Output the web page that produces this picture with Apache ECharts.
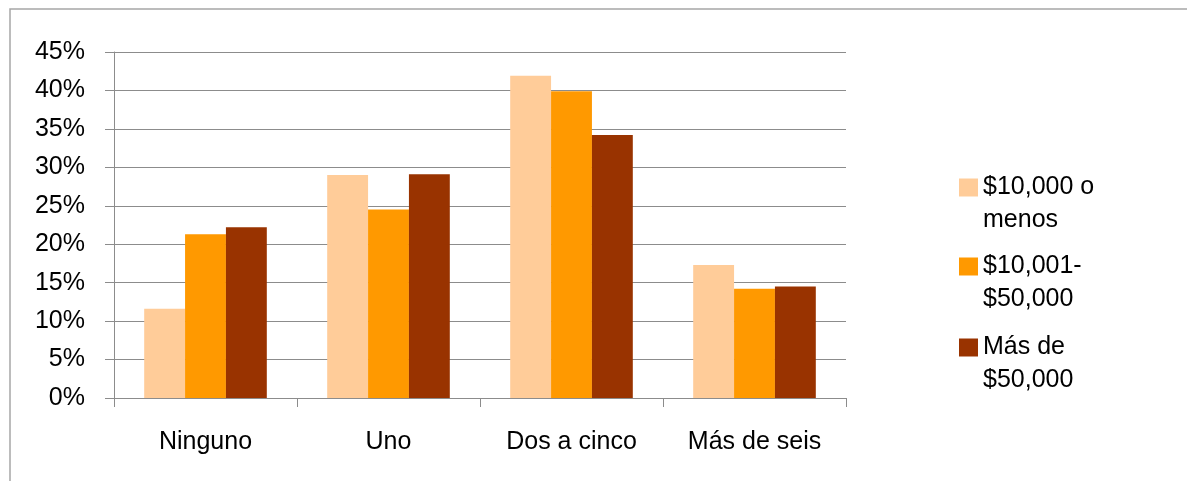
<!DOCTYPE html>
<html>
<head>
<meta charset="utf-8">
<script src="https://cdn.jsdelivr.net/npm/echarts@6/dist/echarts.min.js"></script>
<style>
html,body{margin:0;padding:0;background:#fff;}
#chart{width:1187px;height:481px;}
</style>
</head>
<body>
<div id="chart"></div>
<script>
const categories = ['Ninguno', 'Uno', 'Dos a cinco', 'Más de seis'];
const seriesNames = ['$10,000 o menos', '$10,001-$50,000', 'Más de $50,000'];
const legendLabels = ['$10,000 o\nmenos', '$10,001-\n$50,000', 'Más de\n$50,000'];
const lowIncome = [11.6, 29.0, 41.9, 17.3];
const midIncome = [21.3, 24.5, 39.9, 14.2];
const highIncome = [22.2, 29.1, 34.2, 14.5];
const yTicks = [0, 5, 10, 15, 20, 25, 30, 35, 40, 45];

const colors = ['#FFCC99', '#FF9900', '#993300'];
const values = [lowIncome, midIncome, highIncome];
const FONT = '"Liberation Sans", Arial, sans-serif';
const legendTops = [138, 217, 298];

const chart = echarts.init(document.getElementById('chart'), null, {renderer: 'canvas'});
chart.setOption({
  animation: false,
  backgroundColor: '#ffffff',
  textStyle: {fontFamily: FONT},
  graphic: [{
    type: 'rect',
    shape: {x: 10, y: 9, width: 1200, height: 500},
    style: {fill: 'none', stroke: '#A6A6A6', lineWidth: 1.5},
    silent: true
  }],
  grid: {left: 114, top: 52, width: 732, height: 346},
  xAxis: {
    type: 'category',
    data: categories,
    axisLine: {show: true, lineStyle: {color: '#8C8C8C', width: 1}},
    axisTick: {show: true, length: 9, lineStyle: {color: '#8C8C8C'}},
    axisLabel: {color: '#000', fontSize: 25, fontFamily: FONT, margin: 32}
  },
  yAxis: {
    type: 'value',
    min: yTicks[0],
    max: yTicks[yTicks.length - 1],
    interval: yTicks[1] - yTicks[0],
    axisLine: {show: true, lineStyle: {color: '#8C8C8C', width: 1}},
    axisTick: {show: true, length: 9, lineStyle: {color: '#8C8C8C'}},
    splitLine: {show: true, lineStyle: {color: '#8C8C8C', width: 1}},
    axisLabel: {color: '#000', fontSize: 25, fontFamily: FONT, margin: 29, formatter: '{value}%'}
  },
  legend: seriesNames.map((name, i) => ({
    data: [name],
    orient: 'vertical',
    left: 959,
    top: legendTops[i],
    padding: 0,
    itemWidth: 19,
    itemHeight: 18,
    itemGap: 0,
    icon: 'rect',
    selectedMode: false,
    formatter: () => ' \n' + legendLabels[i],
    textStyle: {color: '#000', fontSize: 25, fontFamily: FONT, lineHeight: 33}
  })),
  series: seriesNames.map((name, i) => ({
    name: name,
    type: 'bar',
    data: values[i],
    itemStyle: {color: colors[i]},
    barGap: '0%',
    barCategoryGap: '33%'
  }))
});
</script>
</body>
</html>
